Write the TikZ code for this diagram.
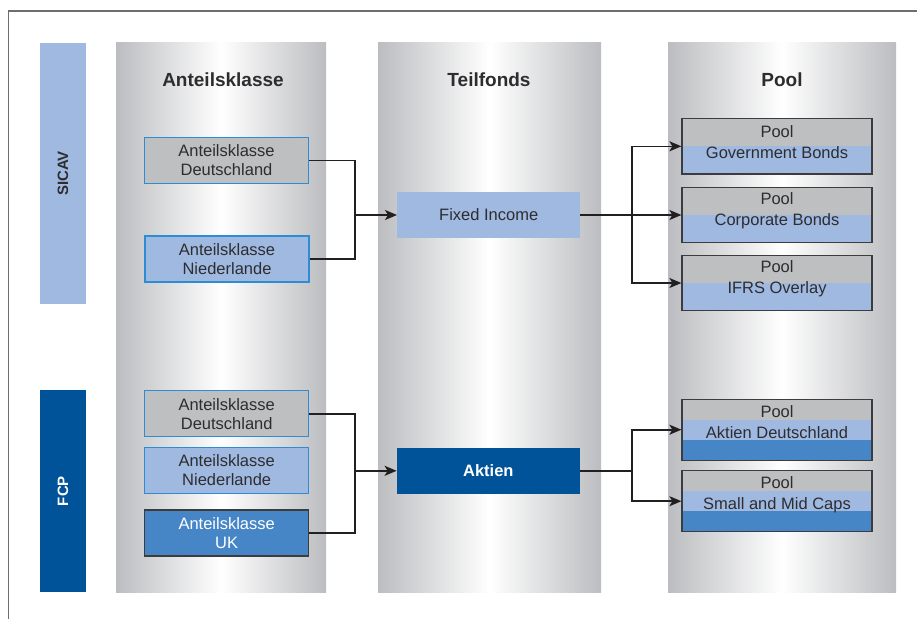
\documentclass[tikz,border=0pt]{standalone}
\usepackage{fontspec}
\setmainfont{Liberation Sans}
\usetikzlibrary{arrows.meta,calc}
\definecolor{colGray}{RGB}{188,189,192}
\definecolor{boxGray}{RGB}{190,191,193}
\definecolor{lightBlue}{RGB}{160,185,225}
\definecolor{darkBlue}{RGB}{0,83,153}
\definecolor{midBlue}{RGB}{70,133,198}
\definecolor{edgeBlue}{RGB}{45,140,210}
\definecolor{txt}{RGB}{45,45,48}
\definecolor{lineCol}{RGB}{34,31,32}
\definecolor{frameCol}{RGB}{110,110,110}
\definecolor{poolEdge}{RGB}{60,60,62}
\newcommand{\boxfont}{\fontsize{16.5}{19}\selectfont}
\newcommand{\poolfont}{\fontsize{16.5}{21}\selectfont}
\newcommand{\headfont}{\fontsize{19}{22}\selectfont\bfseries}
\begin{document}
\begin{tikzpicture}[x=1pt,y=-1pt,
  column/.style={rectangle, minimum width=#1, minimum height=549pt, inner sep=0pt,
    left color=colGray, right color=colGray, middle color=white},
  head/.style={font=\headfont, text=txt},
  side/.style={rectangle, rotate=90, inner sep=0pt, minimum height=46pt, font=\fontsize{15}{18}\selectfont\bfseries},
  cls/.style={rectangle, draw=edgeBlue, line width=1.2pt, minimum width=164pt, minimum height=46pt,
    inner sep=0pt, align=center, text=txt, font=\boxfont},
  fund/.style={rectangle, minimum width=183pt, minimum height=46pt, inner sep=0pt, font=\boxfont},
  poolbase/.style={rectangle, draw=poolEdge, line width=1.2pt, minimum width=190pt, minimum height=#1,
    inner sep=0pt, fill=boxGray},
  poolA/.style={poolbase=55.5pt, path picture={
    \fill[lightBlue] (path picture bounding box.west) rectangle (path picture bounding box.south east);}},
  poolB/.style={poolbase=61pt, path picture={
    \fill[lightBlue] ($(path picture bounding box.north west)!0.333!(path picture bounding box.south west)$) rectangle (path picture bounding box.south east);
    \fill[midBlue] ($(path picture bounding box.north west)!0.667!(path picture bounding box.south west)$) rectangle (path picture bounding box.south east);}},
  pooltext/.style={align=center, inner sep=0pt, text=txt, font=\poolfont},
  conn/.style={draw=lineCol, line width=1.6pt},
  arr/.style={conn, -{Stealth[length=12pt,width=10pt,inset=3pt]}}
]
\useasboundingbox (0,0) rectangle (917,618);
% frame
\draw[frameCol, line width=1.3pt] (8.7,625) -- (8.7,11) -- (925,11);
% side bars
\node[side, fill=lightBlue, text=txt, minimum width=261pt] (sicav) at (63,173.5) {SICAV};
\node[side, fill=darkBlue, text=white, minimum width=202pt] (fcp) at (63,491) {FCP};
% columns
\node[column=210pt] (col1) at (221,317.5) {};
\node[column=223pt] (col2) at (489.5,317.5) {};
\node[column=228pt] (col3) at (782,317.5) {};
\node[head] (h1) at (223,80) {Anteilsklasse};
\node[head] (h2) at (489,80) {Teilfonds};
\node[head] (h3) at (782,80) {Pool};
% share classes
\node[cls, fill=boxGray] (a1) at (226.5,160.3) {Anteilsklasse\\Deutschland};
\node[cls, fill=lightBlue] (a2) at (227,259) {Anteilsklasse\\Niederlande};
\node[cls, fill=boxGray] (b1) at (226.7,413.8) {Anteilsklasse\\Deutschland};
\node[cls, fill=lightBlue] (b2) at (226.7,470.3) {Anteilsklasse\\Niederlande};
\node[cls, fill=midBlue, draw=poolEdge, text=white] (b3) at (226.7,533) {Anteilsklasse\\UK};
% funds
\node[fund, fill=lightBlue, text=txt] (fi) at (488.7,215) {Fixed Income};
\node[fund, fill=darkBlue, text=white, font=\boxfont\bfseries] (ak) at (488.3,470.8) {Aktien};
% pools
\node[poolA] (p1) at (777,146.3) {};
\node[poolA] (p2) at (777,215) {};
\node[poolA] (p3) at (777,283) {};
\node[poolB] (p4) at (777,429.7) {};
\node[poolB] (p5) at (777,501.2) {};
\node[pooltext] (t1) at ([yshift=4.5pt]p1.center) {Pool\\Government Bonds};
\node[pooltext] (t2) at ([yshift=4.5pt]p2.center) {Pool\\Corporate Bonds};
\node[pooltext] (t3) at ([yshift=4.5pt]p3.center) {Pool\\IFRS Overlay};
\node[pooltext] (t4) at ([yshift=7.5pt]p4.center) {Pool\\Aktien Deutschland};
\node[pooltext] (t5) at ([yshift=6pt]p5.center) {Pool\\Small and Mid Caps};
% connectors
\coordinate (j1) at (355,215);
\coordinate (j2) at (631.7,215);
\coordinate (j3) at (355,470.8);
\coordinate (j4) at (631.7,470.8);
\draw[conn] (a1.east) -| (j1) |- (a2.east);
\draw[arr] (j1) -- (fi.west);
\draw[arr] (fi.east) -- (p2.west);
\draw[arr] (j2) |- (p1.west);
\draw[arr] (j2) |- (p3.west);
\draw[conn] (b1.east) -| (j3) |- (b3.east);
\draw[arr] (j3) -- (ak.west);
\draw[conn] (ak.east) -- (j4);
\draw[arr] (j4) |- (p4.west);
\draw[arr] (j4) |- (p5.west);
\end{tikzpicture}
\end{document}
